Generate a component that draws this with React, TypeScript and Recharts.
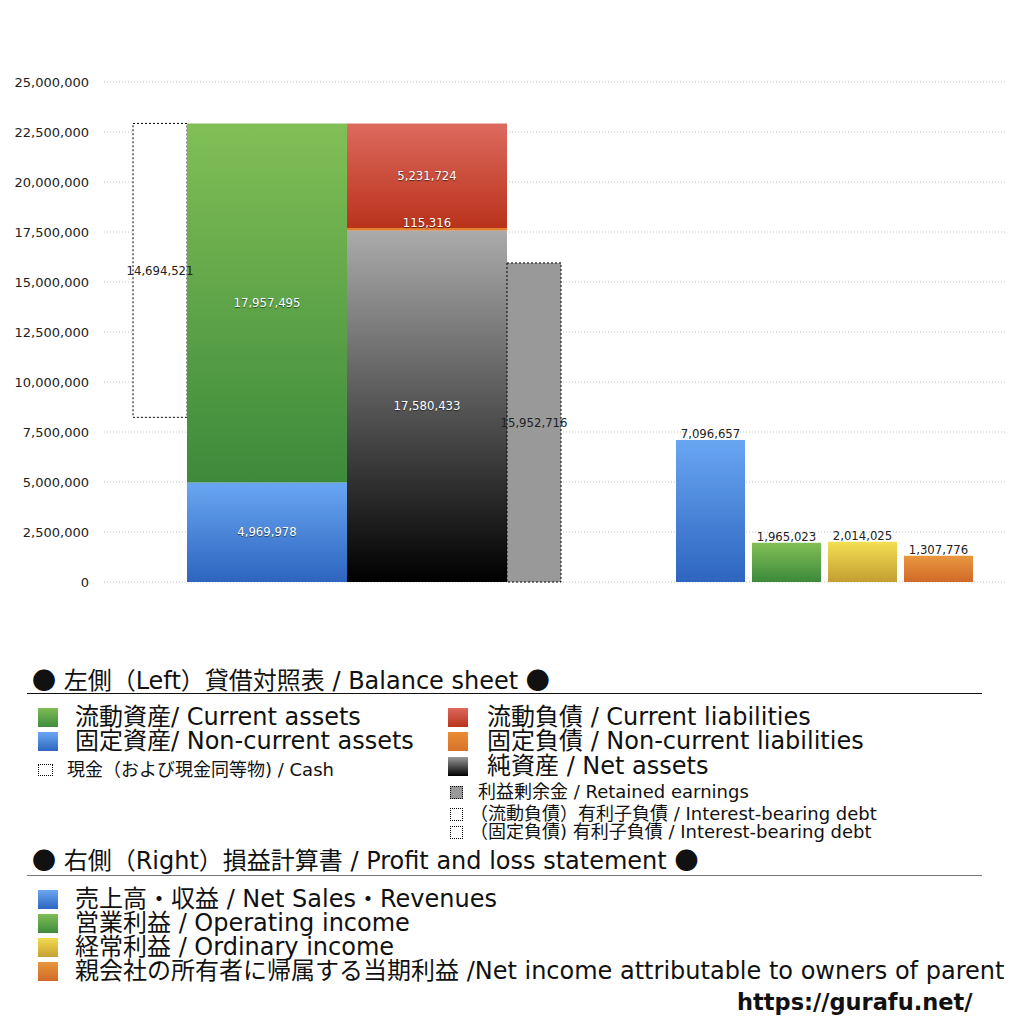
import React from 'react';
import { BarChart, Bar, XAxis, YAxis, CartesianGrid, LabelList, Cell } from 'recharts';

// ---- data ----
const bsCategories = ['貸借対照表'];
const cashValues = [14694521];
const currentAssets = [17957495];
const nonCurrentAssets = [4969978];
const currentLiabilities = [5231724];
const nonCurrentLiabilities = [115316];
const netAssets = [17580433];
const retainedEarnings = [15952716];

const plCategories = ['売上高・収益', '営業利益', '経常利益', '親会社の所有者に帰属する当期利益'];
const plValues = [7096657, 1965023, 2014025, 1307776];
const plGradients = ['gBlue', 'gGreen', 'gYellow', 'gOrange'];

const yTicks = [0, 2500000, 5000000, 7500000, 10000000, 12500000, 15000000, 17500000, 20000000, 22500000, 25000000];

const bsData = bsCategories.map((name, i) => ({
  name,
  cashBase: nonCurrentAssets[i] + currentAssets[i] - cashValues[i],
  cash: cashValues[i],
  nca: nonCurrentAssets[i],
  ca: currentAssets[i],
  net: netAssets[i],
  ncl: nonCurrentLiabilities[i],
  cl: currentLiabilities[i],
  re: retainedEarnings[i],
}));

const plData = plCategories.map((name, i) => ({ name, value: plValues[i] }));

const fmt = (v: any) => Number(v).toLocaleString('en-US');

const FONT = '"DejaVu Sans", "Noto Sans CJK JP", sans-serif';
const CJK = '"Noto Sans CJK JP", sans-serif';
const whiteLabel = { fill: '#fff', fontSize: 11.7, fontFamily: FONT, style: { textShadow: '0 1px 1px rgba(0,0,0,0.55)' } } as any;
const darkLabel = { fill: '#222', fontSize: 11.7, fontFamily: FONT } as any;

const Gradients = () => (
  <defs>
    <linearGradient id="gGreen" x1="0" y1="0" x2="0" y2="1">
      <stop offset="0" stopColor="#82bf56" />
      <stop offset="1" stopColor="#3c8a3b" />
    </linearGradient>
    <linearGradient id="gBlue" x1="0" y1="0" x2="0" y2="1">
      <stop offset="0" stopColor="#69a6f2" />
      <stop offset="1" stopColor="#2d65bf" />
    </linearGradient>
    <linearGradient id="gRed" x1="0" y1="0" x2="0" y2="1">
      <stop offset="0" stopColor="#dd6a5e" />
      <stop offset="1" stopColor="#b9321b" />
    </linearGradient>
    <linearGradient id="gOrangeFlat" x1="0" y1="0" x2="0" y2="1">
      <stop offset="0" stopColor="#e8892e" />
      <stop offset="1" stopColor="#d9762a" />
    </linearGradient>
    <linearGradient id="gGray" x1="0" y1="0" x2="0" y2="1">
      <stop offset="0" stopColor="#ababab" />
      <stop offset="1" stopColor="#000000" />
    </linearGradient>
    <linearGradient id="gYellow" x1="0" y1="0" x2="0" y2="1">
      <stop offset="0" stopColor="#f4df52" />
      <stop offset="1" stopColor="#c39e32" />
    </linearGradient>
    <linearGradient id="gOrange" x1="0" y1="0" x2="0" y2="1">
      <stop offset="0" stopColor="#e9973f" />
      <stop offset="1" stopColor="#d06a28" />
    </linearGradient>
  </defs>
);

const CHART_W = 1010;
const CHART_H = 600;
const MARGIN = { top: 74, right: 13, bottom: 26, left: 0 };

const Swatch = ({ bg, size = 20, h = 19, dotted = false }: any) => (
  <span
    style={{
      display: 'inline-block',
      width: size,
      height: h,
      background: bg,
      boxSizing: 'border-box',
      border: dotted ? '1px dotted #000' : 'none',
    }}
  />
);

// cy: vertical centre in page pixels
const Row = ({ cy, left, textLeft, swatch, text, fontSize = 24 }: any) => {
  const h = fontSize > 20 ? 24 : 18;
  return (
    <div style={{ position: 'absolute', top: cy - 8 - h / 2, left, height: h, display: 'flex', alignItems: 'center', whiteSpace: 'nowrap' }}>
      {swatch}
      <span style={{ position: 'absolute', left: textLeft, top: 0, fontSize, lineHeight: `${h}px`, color: '#111' }}>{text}</span>
    </div>
  );
};

const Heading = ({ cy, text }: any) => (
  <div style={{ position: 'absolute', left: 24, top: cy - 8 - 15, fontSize: 24, lineHeight: '30px', whiteSpace: 'nowrap', color: '#111' }}>
    <span style={{ fontFamily: CJK }}>●</span> {text} <span style={{ fontFamily: CJK }}>●</span>
  </div>
);

export default function App() {
  const grad = (id: string) => `linear-gradient(to bottom, ${id})`;
  return (
    <div style={{ position: 'relative', width: CHART_W, height: 1010, fontFamily: FONT, background: '#fff' }}>
      <div style={{ position: 'absolute', left: 0, top: 0 }}>
        <BarChart width={CHART_W} height={CHART_H} data={bsData} margin={MARGIN} barGap={0} barCategoryGap={0}>
          <Gradients />
          <CartesianGrid vertical={false} stroke="#c4c4c4" strokeDasharray="1 2" />
          <XAxis dataKey="name" hide padding={{ left: 0, right: 415 }} />
          <YAxis
            width={96}
            domain={[0, 25000000]}
            ticks={yTicks}
            interval={0}
            tickFormatter={fmt}
            axisLine={false}
            tickLine={false}
            tickMargin={9}
            tick={{ fontSize: 13, fill: '#222', fontFamily: FONT }}
          />
          <Bar dataKey="cashBase" stackId="cash" fill="transparent" barSize={54} isAnimationActive={false} />
          <Bar dataKey="cash" stackId="cash" fill="#fff" stroke="#000" strokeDasharray="2 2" barSize={54} isAnimationActive={false}>
            <LabelList dataKey="cash" position="center" formatter={fmt} {...darkLabel} />
          </Bar>
          <Bar dataKey="nca" stackId="assets" fill="url(#gBlue)" barSize={160} isAnimationActive={false}>
            <LabelList dataKey="nca" position="center" formatter={fmt} {...whiteLabel} />
          </Bar>
          <Bar dataKey="ca" stackId="assets" fill="url(#gGreen)" barSize={160} isAnimationActive={false}>
            <LabelList dataKey="ca" position="center" formatter={fmt} {...whiteLabel} />
          </Bar>
          <Bar dataKey="net" stackId="liab" fill="url(#gGray)" barSize={160} isAnimationActive={false}>
            <LabelList dataKey="net" position="center" formatter={fmt} {...whiteLabel} />
          </Bar>
          <Bar dataKey="ncl" stackId="liab" fill="url(#gOrangeFlat)" barSize={160} isAnimationActive={false}>
            <LabelList dataKey="ncl" position="top" offset={1} formatter={fmt} {...whiteLabel} />
          </Bar>
          <Bar dataKey="cl" stackId="liab" fill="url(#gRed)" barSize={160} isAnimationActive={false}>
            <LabelList dataKey="cl" position="center" formatter={fmt} {...whiteLabel} />
          </Bar>
          <Bar dataKey="re" stackId="re" fill="#999999" stroke="#000" strokeDasharray="2 2" barSize={54} isAnimationActive={false}>
            <LabelList dataKey="re" position="center" formatter={fmt} {...darkLabel} />
          </Bar>
        </BarChart>
      </div>
      <div style={{ position: 'absolute', left: 0, top: 0 }}>
        <BarChart width={CHART_W} height={CHART_H} data={plData} margin={{ ...MARGIN, left: 96 }} barGap={0} barCategoryGap={0}>
          <Gradients />
          <XAxis dataKey="name" hide padding={{ left: 568, right: 29 }} />
          <YAxis hide domain={[0, 25000000]} ticks={yTicks} />
          <Bar dataKey="value" barSize={69} isAnimationActive={false}>
            {plData.map((d, i) => (
              <Cell key={d.name} fill={`url(#${plGradients[i]})`} />
            ))}
            <LabelList dataKey="value" position="top" offset={2} formatter={fmt} {...darkLabel} />
          </Bar>
        </BarChart>
      </div>

      {/* Legend: balance sheet */}
      <Heading cy={679} text="左側（Left）貸借対照表 / Balance sheet" />
      <div style={{ position: 'absolute', left: 19, top: 685, width: 955, borderTop: '1px solid #111' }} />

      <Row cy={717} left={30} textLeft={37} swatch={<Swatch bg={grad('#7fbd55, #3e8b3c')} />} text="流動資産/ Current assets" />
      <Row cy={741} left={30} textLeft={37} swatch={<Swatch bg={grad('#6aa7f2, #2e66c0')} />} text="固定資産/ Non-current assets" />
      <Row cy={770} left={30} textLeft={29} swatch={<Swatch bg="#fff" size={15} h={12} dotted />} text="現金（および現金同等物) / Cash" fontSize={18} />

      <Row cy={717} left={440} textLeft={39} swatch={<Swatch bg={grad('#dc685c, #b9331c')} />} text="流動負債 /  Current liabilities" />
      <Row cy={741} left={440} textLeft={39} swatch={<Swatch bg={grad('#e98d35, #d7722a')} />} text="固定負債 / Non-current liabilities" />
      <Row cy={766} left={440} textLeft={39} swatch={<Swatch bg={grad('#9a9a9a, #000')} />} text="純資産 / Net assets" />
      <Row cy={792} left={442} textLeft={28} swatch={<Swatch bg="#999" size={13} h={13} dotted />} text="利益剰余金 / Retained earnings" fontSize={18} />
      <Row cy={814} left={442} textLeft={20} swatch={<Swatch bg="#fff" size={13} h={13} dotted />} text="（流動負債）有利子負債 / Interest-bearing debt" fontSize={18} />
      <Row cy={832} left={442} textLeft={20} swatch={<Swatch bg="#fff" size={13} h={13} dotted />} text="（固定負債) 有利子負債 / Interest-bearing debt" fontSize={18} />

      {/* Legend: P&L */}
      <Heading cy={859} text="右側（Right）損益計算書 / Profit and loss statement" />
      <div style={{ position: 'absolute', left: 19, top: 867, width: 955, borderTop: '1px solid #777' }} />

      <Row cy={899} left={30} textLeft={37} swatch={<Swatch bg={grad('#6aa7f2, #2e66c0')} />} text="売上高・収益 / Net Sales・Revenues" />
      <Row cy={923} left={30} textLeft={37} swatch={<Swatch bg={grad('#7fbd55, #3e8b3c')} />} text="営業利益 / Operating income" />
      <Row cy={947} left={30} textLeft={37} swatch={<Swatch bg={grad('#f3dc50, #c49f33')} />} text="経常利益 / Ordinary income" />
      <Row cy={971} left={30} textLeft={37} swatch={<Swatch bg={grad('#e9963e, #d06a28')} />} text="親会社の所有者に帰属する当期利益 /Net income attributable to owners of parent" />

      <div style={{ position: 'absolute', left: 729, top: 980, fontSize: 22.5, fontWeight: 700, lineHeight: '28px', color: '#111', whiteSpace: 'nowrap' }}>
        https://gurafu.net/
      </div>
    </div>
  );
}
